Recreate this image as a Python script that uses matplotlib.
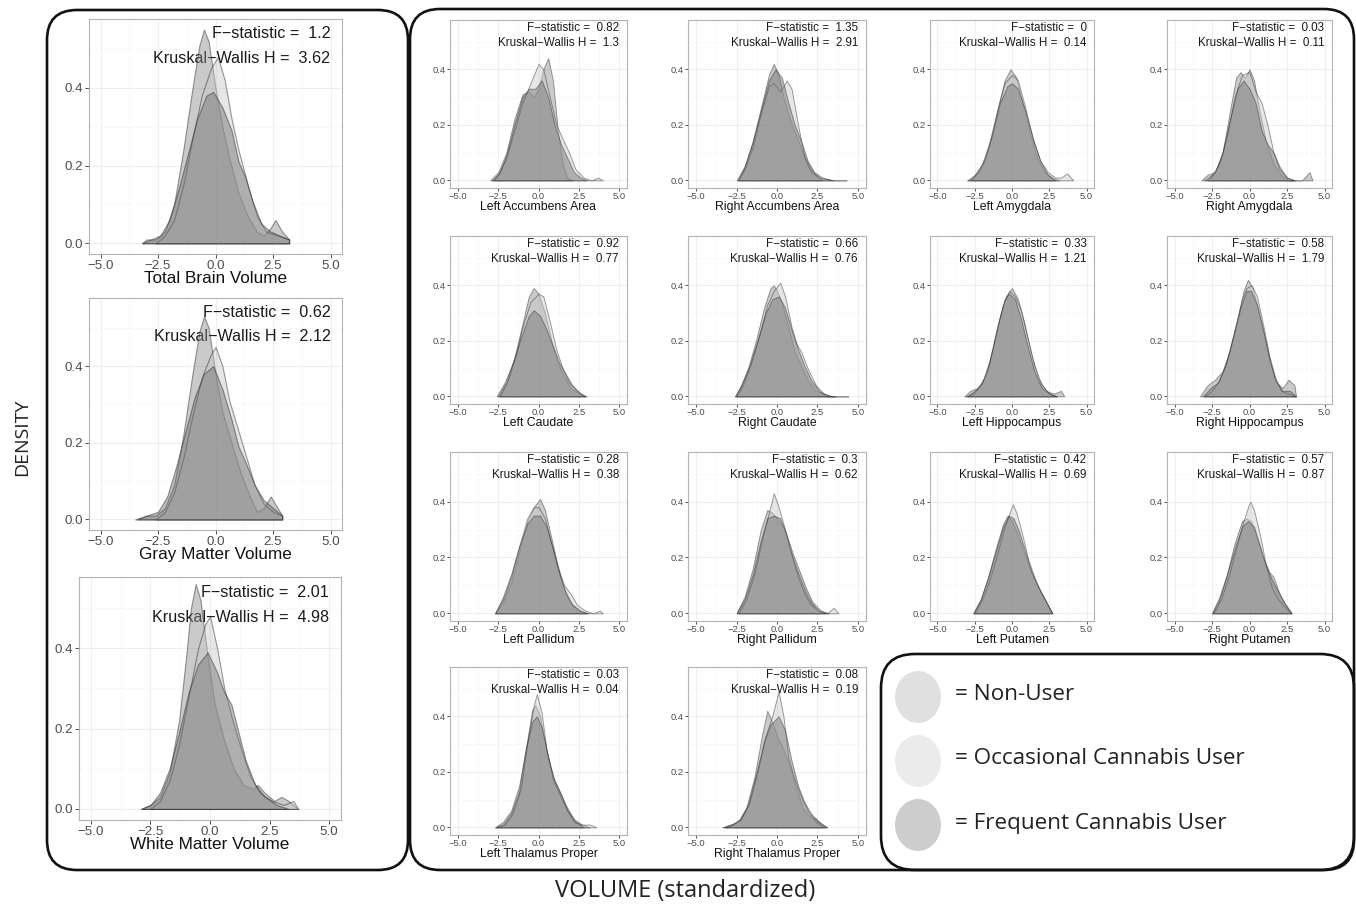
import matplotlib
matplotlib.use("Agg")
import matplotlib.pyplot as plt
from matplotlib.patches import FancyBboxPatch, Ellipse

plt.rcParams["font.family"] = ["Liberation Sans", "DejaVu Sans"]

W, H = 1356, 908

GROUPS = ["Non-User", "Occasional Cannabis User", "Frequent Cannabis User"]
FILL = {
    "Non-User": "#8a8a8a",
    "Occasional Cannabis User": "#c8c8c8",
    "Frequent Cannabis User": "#6e6e6e",
}
LEGEND_FILL = {
    "Non-User": "#e0e0e0",
    "Occasional Cannabis User": "#ebebeb",
    "Frequent Cannabis User": "#cdcdcd",
}

# ---- density curves: (x, density) per group ----
TOTAL_BRAIN = {
    "Non-User": [(-3.2, 0), (-3.0, .01), (-2.6, .01), (-2.2, .03), (-1.8, .10), (-1.4, .24), (-1.0, .40),
                 (-0.7, .51), (-0.5, .55), (-0.3, .52), (0.0, .40), (0.3, .30), (0.6, .22), (1.0, .13),
                 (1.4, .07), (1.8, .03), (2.1, .02), (2.4, .04), (2.6, .06), (2.9, .03), (3.2, .01)],
    "Occasional Cannabis User": [(-2.6, 0), (-2.2, .02), (-1.8, .06), (-1.4, .15), (-1.0, .27), (-0.6, .38),
                                 (-0.2, .45), (0.1, .48), (0.4, .42), (0.7, .32), (1.0, .24), (1.4, .15),
                                 (1.8, .07), (2.2, .03), (2.7, .02), (3.2, .01)],
    "Frequent Cannabis User": [(-3.2, 0), (-2.8, .01), (-2.4, .02), (-2.0, .06), (-1.6, .14), (-1.2, .23),
                               (-0.8, .32), (-0.4, .38), (-0.1, .39), (0.3, .35), (0.7, .29), (1.0, .21),
                               (1.3, .17), (1.6, .11), (2.0, .05), (2.4, .03), (2.8, .02), (3.2, .01)],
}
GRAY_MATTER = {
    "Non-User": [(-3.5, 0), (-3.0, .01), (-2.6, .01), (-2.2, .03), (-1.8, .09), (-1.4, .22), (-1.0, .38),
                 (-0.7, .49), (-0.5, .53), (-0.3, .50), (0.0, .38), (0.3, .28), (0.7, .20), (1.1, .12),
                 (1.5, .06), (1.8, .02), (2.1, .03), (2.4, .06), (2.7, .03), (2.9, .01)],
    "Occasional Cannabis User": [(-2.6, 0), (-2.2, .02), (-1.8, .07), (-1.4, .16), (-1.0, .27), (-0.6, .37),
                                 (-0.2, .43), (0.0, .45), (0.3, .40), (0.6, .31), (0.9, .25), (1.3, .17),
                                 (1.7, .09), (2.1, .04), (2.5, .02), (2.9, .01)],
    "Frequent Cannabis User": [(-3.4, 0), (-3.0, .01), (-2.5, .02), (-2.1, .06), (-1.7, .14), (-1.3, .23),
                               (-0.9, .32), (-0.5, .38), (-0.1, .40), (0.3, .34), (0.7, .26), (1.0, .19),
                               (1.3, .15), (1.7, .09), (2.1, .05), (2.5, .03), (2.9, .01)],
}
WHITE_MATTER = {
    "Non-User": [(-2.9, 0), (-2.5, .01), (-2.1, .03), (-1.7, .09), (-1.3, .22), (-1.0, .38), (-0.8, .50),
                 (-0.6, .56), (-0.4, .52), (-0.1, .38), (0.2, .26), (0.6, .17), (1.0, .10), (1.4, .06),
                 (1.8, .05), (2.0, .06), (2.3, .04), (2.7, .02), (3.0, .03), (3.3, .02), (3.7, 0)],
    "Occasional Cannabis User": [(-2.5, 0), (-2.1, .02), (-1.7, .07), (-1.3, .16), (-0.9, .28), (-0.5, .40),
                                 (-0.2, .46), (0.0, .48), (0.3, .40), (0.6, .30), (0.9, .23), (1.3, .15),
                                 (1.7, .08), (2.1, .04), (2.6, .02), (3.1, .01), (3.5, .02), (3.7, 0)],
    "Frequent Cannabis User": [(-2.9, 0), (-2.5, .01), (-2.1, .04), (-1.7, .10), (-1.3, .19), (-0.9, .29),
                               (-0.5, .36), (-0.1, .39), (0.3, .34), (0.6, .29), (0.9, .26), (1.2, .19),
                               (1.5, .12), (1.9, .06), (2.3, .03), (2.8, .01), (3.3, 0)],
}
L_ACCUMBENS = {
    "Non-User": [(-3.0, 0), (-2.5, .03), (-2.0, .10), (-1.5, .22), (-1.0, .31), (-0.6, .32), (-0.3, .30),
                 (0.0, .33), (0.3, .40), (0.6, .44), (0.9, .36), (1.2, .18), (1.5, .06), (1.8, .01), (2.1, 0)],
    "Occasional Cannabis User": [(-2.9, 0), (-2.5, .02), (-2.0, .08), (-1.5, .18), (-1.0, .28), (-0.5, .35),
                                 (0.0, .42), (0.3, .40), (0.7, .30), (1.1, .20), (1.5, .15), (1.9, .10),
                                 (2.3, .04), (2.8, .01), (3.3, 0), (3.7, .01), (4.0, 0)],
    "Frequent Cannabis User": [(-2.8, 0), (-2.4, .03), (-2.0, .09), (-1.5, .20), (-1.0, .30), (-0.6, .33),
                               (-0.2, .33), (0.2, .36), (0.6, .30), (1.0, .20), (1.4, .13), (1.8, .08),
                               (2.2, .03), (2.6, .01), (3.0, 0)],
}
R_ACCUMBENS = {
    "Non-User": [(-2.4, 0), (-2.0, .05), (-1.5, .14), (-1.0, .26), (-0.5, .38), (-0.2, .42), (0.1, .38),
                 (0.4, .30), (0.8, .22), (1.2, .16), (1.6, .10), (2.0, .05), (2.4, .02), (2.8, 0)],
    "Occasional Cannabis User": [(-2.4, 0), (-2.0, .04), (-1.5, .12), (-1.0, .24), (-0.5, .34), (-0.2, .35),
                                 (0.2, .32), (0.6, .36), (0.9, .33), (1.3, .20), (1.7, .08), (2.1, .03),
                                 (2.6, .01), (3.5, 0), (4.3, 0)],
    "Frequent Cannabis User": [(-2.5, 0), (-2.0, .05), (-1.5, .14), (-1.0, .25), (-0.5, .36), (-0.1, .40),
                               (0.3, .37), (0.7, .28), (1.1, .20), (1.5, .14), (1.9, .07), (2.3, .03),
                               (2.8, .01), (3.5, 0)],
}
L_AMYGDALA = {
    "Non-User": [(-3.0, 0), (-2.6, .01), (-2.0, .05), (-1.5, .13), (-1.0, .25), (-0.5, .36), (-0.1, .40),
                 (0.3, .37), (0.7, .28), (1.2, .17), (1.7, .08), (2.2, .03), (2.7, .01), (3.2, 0)],
    "Occasional Cannabis User": [(-3.0, 0), (-2.5, .02), (-2.0, .06), (-1.5, .14), (-1.0, .25), (-0.5, .35),
                                 (0.0, .38), (0.4, .36), (0.9, .26), (1.4, .15), (1.9, .07), (2.4, .03),
                                 (2.9, .01), (3.3, .01), (3.7, .025), (4.1, 0)],
    "Frequent Cannabis User": [(-2.8, 0), (-2.3, .03), (-1.8, .08), (-1.3, .17), (-0.8, .28), (-0.3, .34),
                               (0.0, .35), (0.4, .33), (0.9, .25), (1.4, .15), (1.9, .07), (2.4, .02), (2.9, 0)],
}
R_AMYGDALA = {
    "Non-User": [(-3.2, 0), (-2.8, .02), (-2.3, .03), (-1.8, .10), (-1.3, .25), (-0.9, .37), (-0.6, .39),
                 (-0.3, .37), (0.0, .40), (0.3, .36), (0.7, .24), (1.1, .14), (1.6, .06), (2.1, .02),
                 (2.6, 0), (3.5, 0), (4.0, .03), (4.2, 0)],
    "Occasional Cannabis User": [(-3.0, 0), (-2.5, .02), (-2.0, .06), (-1.5, .16), (-1.0, .30), (-0.5, .38),
                                 (0.0, .39), (0.4, .32), (0.8, .28), (1.2, .20), (1.6, .10), (2.0, .04),
                                 (2.5, .01), (3.0, 0)],
    "Frequent Cannabis User": [(-2.8, 0), (-2.3, .03), (-1.8, .10), (-1.3, .22), (-0.8, .33), (-0.4, .36),
                               (0.0, .33), (0.4, .28), (0.8, .18), (1.2, .13), (1.6, .10), (2.0, .05),
                               (2.5, .01), (3.0, 0)],
}
L_CAUDATE = {
    "Non-User": [(-2.5, 0), (-2.0, .05), (-1.5, .14), (-1.0, .26), (-0.6, .36), (-0.3, .39), (0.0, .37),
                 (0.4, .30), (0.8, .20), (1.2, .12), (1.6, .07), (2.0, .03), (2.5, .01), (2.9, 0)],
    "Occasional Cannabis User": [(-2.4, 0), (-1.9, .06), (-1.4, .15), (-1.0, .25), (-0.5, .34), (0.0, .37),
                                 (0.3, .36), (0.7, .27), (1.1, .17), (1.5, .10), (1.9, .05), (2.4, .02), (2.9, 0)],
    "Frequent Cannabis User": [(-2.6, 0), (-2.1, .05), (-1.6, .12), (-1.1, .21), (-0.6, .29), (-0.3, .31),
                               (0.1, .29), (0.5, .24), (0.9, .18), (1.3, .12), (1.7, .08), (2.1, .04),
                               (2.6, .01), (3.0, 0)],
}
R_CAUDATE = {
    "Non-User": [(-2.6, 0), (-2.3, .03), (-1.8, .10), (-1.3, .20), (-0.8, .32), (-0.4, .39), (-0.2, .40),
                 (0.0, .38), (0.3, .34), (0.7, .25), (1.1, .16), (1.5, .11), (1.9, .06), (2.4, .02),
                 (2.9, .01), (3.4, 0)],
    "Occasional Cannabis User": [(-2.5, 0), (-2.1, .04), (-1.6, .12), (-1.1, .22), (-0.6, .33), (-0.2, .38),
                                 (0.2, .41), (0.5, .36), (0.9, .25), (1.2, .19), (1.5, .16), (1.9, .10),
                                 (2.4, .04), (2.9, .01), (3.4, 0), (4.4, 0)],
    "Frequent Cannabis User": [(-2.6, 0), (-2.2, .04), (-1.7, .11), (-1.2, .20), (-0.7, .30), (-0.3, .35),
                               (0.1, .36), (0.5, .32), (0.9, .24), (1.3, .17), (1.7, .11), (2.1, .06),
                               (2.6, .02), (3.1, 0), (3.6, 0)],
}
L_HIPPOCAMPUS = {
    "Non-User": [(-3.2, 0), (-2.8, .02), (-2.3, .03), (-1.8, .07), (-1.3, .17), (-0.8, .29), (-0.4, .36),
                 (0.0, .39), (0.4, .35), (0.8, .27), (1.3, .15), (1.8, .06), (2.3, .02), (2.8, .01),
                 (3.3, .02), (3.5, 0)],
    "Occasional Cannabis User": [(-3.1, 0), (-2.6, .01), (-2.1, .04), (-1.6, .10), (-1.1, .22), (-0.6, .33),
                                 (-0.2, .38), (0.2, .36), (0.6, .31), (1.0, .22), (1.5, .11), (2.0, .04),
                                 (2.5, .01), (3.0, 0)],
    "Frequent Cannabis User": [(-3.0, 0), (-2.5, .02), (-2.0, .05), (-1.5, .13), (-1.0, .25), (-0.5, .35),
                               (-0.2, .37), (0.2, .35), (0.6, .28), (1.0, .19), (1.5, .09), (2.0, .03),
                               (2.5, .01), (3.0, 0)],
}
R_HIPPOCAMPUS = {
    "Non-User": [(-3.3, 0), (-2.8, .04), (-2.3, .06), (-1.8, .09), (-1.3, .17), (-0.8, .28), (-0.4, .38),
                 (-0.1, .42), (0.2, .39), (0.6, .31), (1.0, .22), (1.4, .12), (1.8, .05), (2.2, .03),
                 (2.6, .06), (3.0, .04), (3.1, 0)],
    "Occasional Cannabis User": [(-3.0, 0), (-2.5, .02), (-2.0, .06), (-1.5, .13), (-1.0, .24), (-0.5, .35),
                                 (-0.2, .39), (0.15, .40), (0.5, .36), (0.9, .26), (1.3, .15), (1.7, .07),
                                 (2.1, .02), (2.6, .01), (3.1, 0)],
    "Frequent Cannabis User": [(-3.1, 0), (-2.6, .03), (-2.1, .05), (-1.6, .11), (-1.1, .21), (-0.6, .32),
                               (-0.2, .38), (0.1, .38), (0.5, .33), (0.9, .24), (1.3, .14), (1.7, .06),
                               (2.2, .02), (2.7, .02), (3.1, 0)],
}
L_PALLIDUM = {
    "Non-User": [(-2.7, 0), (-2.2, .04), (-1.7, .11), (-1.2, .22), (-0.7, .33), (-0.3, .38), (0.1, .41),
                 (0.4, .37), (0.8, .27), (1.2, .17), (1.6, .09), (2.0, .04), (2.5, .01), (3.0, 0)],
    "Occasional Cannabis User": [(-2.7, 0), (-2.2, .05), (-1.7, .13), (-1.2, .24), (-0.7, .34), (-0.3, .38),
                                 (0.0, .38), (0.4, .34), (0.8, .25), (1.2, .16), (1.6, .10), (2.0, .07),
                                 (2.4, .03), (2.9, .01), (3.4, 0), (3.8, .01), (4.0, 0)],
    "Frequent Cannabis User": [(-2.7, 0), (-2.2, .06), (-1.7, .14), (-1.2, .24), (-0.7, .32), (-0.3, .35),
                               (0.1, .35), (0.5, .31), (0.9, .23), (1.3, .14), (1.7, .07), (2.1, .03),
                               (2.6, .01), (3.1, 0)],
}
R_PALLIDUM = {
    "Non-User": [(-2.5, 0), (-2.0, .06), (-1.5, .16), (-1.0, .30), (-0.6, .37), (-0.3, .36), (0.0, .34),
                 (0.4, .31), (0.8, .23), (1.2, .16), (1.6, .10), (2.0, .05), (2.5, .01), (3.0, 0)],
    "Occasional Cannabis User": [(-2.4, 0), (-1.9, .05), (-1.4, .14), (-0.9, .27), (-0.5, .36), (-0.2, .43),
                                 (0.1, .38), (0.5, .30), (0.9, .21), (1.3, .13), (1.7, .07), (2.1, .03),
                                 (2.6, .01), (3.1, 0), (3.5, .02), (3.8, 0)],
    "Frequent Cannabis User": [(-2.5, 0), (-2.0, .05), (-1.5, .14), (-1.0, .26), (-0.6, .34), (-0.2, .35),
                               (0.2, .34), (0.6, .28), (1.0, .21), (1.4, .15), (1.8, .09), (2.2, .04),
                               (2.7, .01), (3.2, 0)],
}
L_PUTAMEN = {
    "Non-User": [(-2.6, 0), (-2.1, .05), (-1.6, .13), (-1.1, .23), (-0.6, .32), (-0.3, .35), (0.0, .33),
                 (0.4, .28), (0.8, .22), (1.2, .16), (1.6, .11), (2.0, .07), (2.4, .03), (2.7, 0)],
    "Occasional Cannabis User": [(-2.5, 0), (-2.0, .05), (-1.5, .12), (-1.0, .21), (-0.5, .31), (-0.1, .37),
                                 (0.05, .39), (0.3, .36), (0.7, .28), (1.1, .19), (1.5, .13), (1.9, .08),
                                 (2.3, .04), (2.7, 0)],
    "Frequent Cannabis User": [(-2.6, 0), (-2.1, .05), (-1.6, .13), (-1.1, .22), (-0.6, .31), (-0.2, .35),
                               (0.1, .34), (0.5, .29), (0.9, .22), (1.3, .15), (1.7, .10), (2.1, .06),
                               (2.5, .02), (2.7, 0)],
}
R_PUTAMEN = {
    "Non-User": [(-2.5, 0), (-2.0, .05), (-1.5, .14), (-1.0, .25), (-0.5, .33), (-0.2, .34), (0.1, .33),
                 (0.5, .27), (0.9, .20), (1.3, .15), (1.6, .13), (2.0, .07), (2.4, .03), (2.8, 0)],
    "Occasional Cannabis User": [(-2.4, 0), (-1.9, .05), (-1.4, .13), (-0.9, .23), (-0.4, .33), (-0.1, .38),
                                 (0.05, .40), (0.3, .37), (0.7, .28), (1.1, .17), (1.5, .09), (1.9, .05),
                                 (2.4, .02), (2.8, 0)],
    "Frequent Cannabis User": [(-2.5, 0), (-2.0, .06), (-1.5, .14), (-1.0, .23), (-0.5, .31), (-0.1, .33),
                               (0.3, .31), (0.7, .24), (1.1, .17), (1.5, .12), (1.9, .08), (2.3, .04),
                               (2.7, .01), (2.8, 0)],
}
L_THALAMUS = {
    "Non-User": [(-2.7, 0), (-2.2, .01), (-1.7, .05), (-1.2, .13), (-0.8, .28), (-0.4, .42), (-0.2, .44),
                 (0.1, .40), (0.5, .28), (0.9, .18), (1.3, .13), (1.7, .08), (2.2, .03), (2.7, .01), (3.2, 0)],
    "Occasional Cannabis User": [(-2.6, 0), (-2.1, .01), (-1.6, .05), (-1.1, .14), (-0.7, .30), (-0.3, .44),
                                 (-0.1, .48), (0.2, .41), (0.5, .28), (0.9, .17), (1.3, .12), (1.7, .07),
                                 (2.2, .02), (2.7, .01), (3.2, .01), (3.6, 0)],
    "Frequent Cannabis User": [(-2.7, 0), (-2.2, .02), (-1.7, .06), (-1.2, .15), (-0.8, .28), (-0.4, .38),
                               (-0.1, .40), (0.2, .36), (0.6, .25), (1.0, .17), (1.4, .12), (1.8, .06),
                               (2.3, .02), (2.8, 0)],
}
R_THALAMUS = {
    "Non-User": [(-3.4, 0), (-2.9, .01), (-2.4, .02), (-1.9, .07), (-1.4, .18), (-0.9, .34), (-0.6, .42),
                 (-0.3, .38), (0.0, .33), (0.4, .28), (0.8, .22), (1.2, .14), (1.6, .07), (2.0, .04),
                 (2.4, .03), (2.8, .01), (3.1, 0)],
    "Occasional Cannabis User": [(-3.2, 0), (-2.7, .01), (-2.2, .03), (-1.7, .09), (-1.2, .20), (-0.7, .33),
                                 (-0.3, .40), (0.1, .49), (0.4, .40), (0.7, .25), (1.1, .17), (1.5, .11),
                                 (1.9, .06), (2.4, .02), (2.9, 0)],
    "Frequent Cannabis User": [(-3.3, 0), (-2.8, .01), (-2.3, .03), (-1.8, .08), (-1.3, .19), (-0.8, .31),
                               (-0.4, .37), (0.1, .40), (0.5, .35), (0.9, .24), (1.3, .15), (1.7, .09),
                               (2.1, .05), (2.6, .02), (3.1, 0)],
}

BIG_TITLES = ["Total Brain Volume", "Gray Matter Volume", "White Matter Volume"]
BIG_CURVES = [TOTAL_BRAIN, GRAY_MATTER, WHITE_MATTER]
BIG_F = ["1.2", "0.62", "2.01"]
BIG_KW = ["3.62", "2.12", "4.98"]

SMALL_TITLES = ["Left Accumbens Area", "Right Accumbens Area", "Left Amygdala", "Right Amygdala",
                "Left Caudate", "Right Caudate", "Left Hippocampus", "Right Hippocampus",
                "Left Pallidum", "Right Pallidum", "Left Putamen", "Right Putamen",
                "Left Thalamus Proper", "Right Thalamus Proper"]
SMALL_CURVES = [L_ACCUMBENS, R_ACCUMBENS, L_AMYGDALA, R_AMYGDALA, L_CAUDATE, R_CAUDATE,
                L_HIPPOCAMPUS, R_HIPPOCAMPUS, L_PALLIDUM, R_PALLIDUM, L_PUTAMEN, R_PUTAMEN,
                L_THALAMUS, R_THALAMUS]
SMALL_F = ["0.82", "1.35", "0", "0.03", "0.92", "0.66", "0.33", "0.58",
           "0.28", "0.3", "0.42", "0.57", "0.03", "0.08"]
SMALL_KW = ["1.3", "2.91", "0.14", "0.11", "0.77", "0.76", "1.21", "1.79",
            "0.38", "0.62", "0.69", "0.87", "0.04", "0.19"]

XTICKS = [-5, -2.5, 0, 2.5, 5]
XTICKLABELS = ["\u22125.0", "\u22122.5", "0.0", "2.5", "5.0"]
YTICKS = [0, 0.2, 0.4]
YTICKLABELS = ["0.0", "0.2", "0.4"]


def px_axes(fig, x0, y0, x1, y1):
    return fig.add_axes([x0 / W, 1 - y1 / H, (x1 - x0) / W, (y1 - y0) / H])


def draw_panel(ax, curves, title, fstat, kw, big):
    tick_fs, ann_fs, title_fs = (9.6, 11.6, 12.3) if big else (6.8, 8.4, 8.8)
    for g in GROUPS:
        xs = [p[0] for p in curves[g]]
        ys = [p[1] for p in curves[g]]
        ax.fill_between(xs, 0, ys, facecolor=FILL[g], alpha=0.45,
                        edgecolor="#1f1f1f", linewidth=0.8 if big else 0.65, zorder=3)
    ax.set_xlim(-5.5, 5.5)
    ax.set_ylim(-0.0275, 0.5775)
    ax.set_xticks(XTICKS)
    ax.set_xticklabels(XTICKLABELS)
    ax.set_yticks(YTICKS)
    ax.set_yticklabels(YTICKLABELS)
    ax.set_xticks([-3.75, -1.25, 1.25, 3.75], minor=True)
    ax.set_yticks([0.1, 0.3, 0.5], minor=True)
    ax.grid(which="major", color="#ebebeb", linewidth=0.6, zorder=0)
    ax.grid(which="minor", color="#f5f5f5", linewidth=0.4, zorder=0)
    ax.set_axisbelow(True)
    ax.tick_params(which="major", labelsize=tick_fs, labelcolor="#4d4d4d",
                   color="#333333", length=3 if big else 2, width=0.6, pad=1.2)
    ax.tick_params(which="minor", length=0)
    for sp in ax.spines.values():
        sp.set_color("#b3b3b3")
        sp.set_linewidth(0.8)
    ax.set_xlabel(title, fontsize=title_fs, labelpad=-0.5 if big else 0, color="#111111")
    ax.text(5.0, 0.54 if big else 0.55, f"F\u2212statistic =  {fstat}", ha="right", va="center",
            fontsize=ann_fs, color="#1a1a1a", zorder=1)
    ax.text(5.0, 0.476 if big else 0.495, f"Kruskal\u2212Wallis H =  {kw}", ha="right", va="center",
            fontsize=ann_fs, color="#1a1a1a", zorder=1)


fig = plt.figure(figsize=(W / 100, H / 100), dpi=100)
fig.patch.set_facecolor("white")

# overlay for frames, legend and outer labels (pixel coordinates)
ov = fig.add_axes([0, 0, 1, 1])
ov.set_xlim(0, W)
ov.set_ylim(H, 0)
ov.axis("off")

frame_kw = dict(facecolor="none", edgecolor="#111111", linewidth=1.9)
ov.add_patch(FancyBboxPatch((47, 10), 361, 860, boxstyle="round,pad=0,rounding_size=30", **frame_kw))
ov.add_patch(FancyBboxPatch((410, 9), 944, 861, boxstyle="round,pad=0,rounding_size=30", **frame_kw))
ov.add_patch(FancyBboxPatch((881, 654), 473, 216, boxstyle="round,pad=0,rounding_size=34", **frame_kw))

legend_y = [697, 761, 825]
for g, yc in zip(GROUPS, legend_y):
    ov.add_patch(Ellipse((918, yc), 46, 52, facecolor=LEGEND_FILL[g], edgecolor="none"))
    ov.text(955, yc - 2, f"= {g}", ha="left", va="center", fontsize=16.2,
            family=["Open Sans", "DejaVu Sans"], color="#222222")

ov.text(22, 437, "DENSITY", rotation=90, ha="center", va="center", fontsize=14,
        family=["Open Sans", "DejaVu Sans"], color="#222222")
ov.text(685, 891, "VOLUME (standardized)", ha="center", va="center", fontsize=17,
        family=["Open Sans", "DejaVu Sans"], color="#222222")

# big panels (left frame)
big_boxes = [(89, 19, 342, 254), (89, 298, 342, 530), (79, 577, 341, 820)]
for box, curves, title, fs, kw in zip(big_boxes, BIG_CURVES, BIG_TITLES, BIG_F, BIG_KW):
    ax = px_axes(fig, *box)
    draw_panel(ax, curves, title, fs, kw, big=True)

# small panels (right frame, 4 columns)
cols = [(450, 627), (688, 866), (930, 1094), (1167, 1332)]
rows = [(20, 188), (236, 404), (452, 621), (667, 835)]
for i, (curves, title, fs, kw) in enumerate(zip(SMALL_CURVES, SMALL_TITLES, SMALL_F, SMALL_KW)):
    (x0, x1), (y0, y1) = cols[i % 4], rows[i // 4]
    ax = px_axes(fig, x0, y0, x1, y1)
    draw_panel(ax, curves, title, fs, kw, big=False)

fig.savefig("out.png", dpi=100, facecolor="white")
